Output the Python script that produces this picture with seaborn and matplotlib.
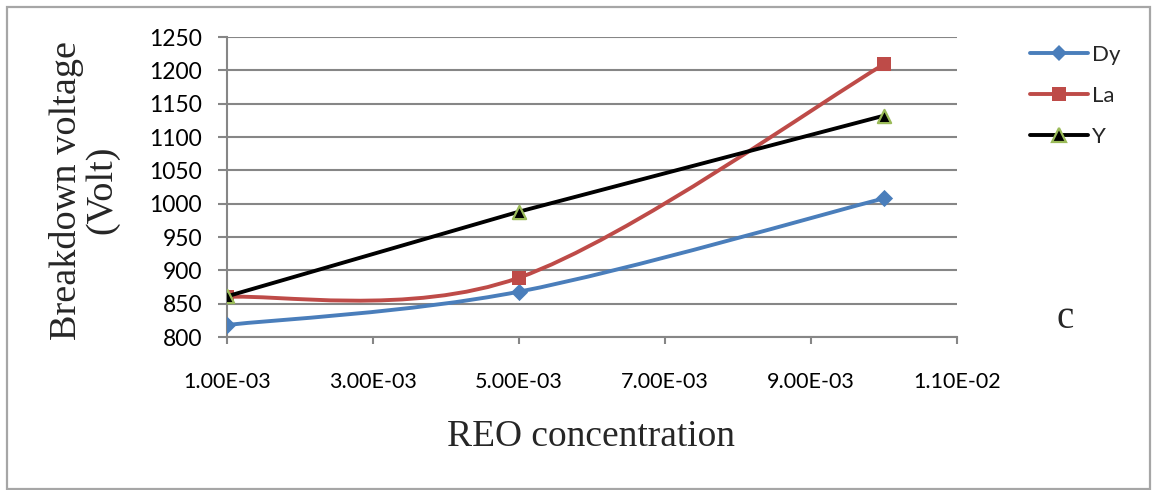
import numpy as np
import pandas as pd
import matplotlib
matplotlib.use("Agg")
import matplotlib.pyplot as plt
from matplotlib.path import Path
from matplotlib.patches import PathPatch, Rectangle
from matplotlib.lines import Line2D
import seaborn as sns

# REO concentration levels and measured breakdown voltages
concentration = [1.0e-3, 5.0e-3, 1.0e-2]
dy_volts = [818, 868, 1008]
la_volts = [860, 889, 1209]
y_volts = [861, 988, 1132]

series_names = ["Dy", "La", "Y"]
x_ticks = [1e-3, 3e-3, 5e-3, 7e-3, 9e-3, 11e-3]
x_tick_labels = ["1.00E-03", "3.00E-03", "5.00E-03", "7.00E-03", "9.00E-03", "1.10E-02"]
y_ticks = list(range(800, 1251, 50))

sns.set_theme(style="white")
plt.rcParams["font.family"] = ["Lato", "DejaVu Sans"]

W, H = 1157, 490
fig = plt.figure(figsize=(W / 100, H / 100), dpi=100)
ax = fig.add_axes([227 / W, 1 - 337 / H, 730 / W, 300 / H])

GRID = "#868686"
BLUE = "#4A7EBB"
RED = "#BE4B48"
GREEN_EDGE = "#9BBB59"


def smooth_path(xs, ys):
    """Cubic Bezier path through the points, Excel-style smoothing."""
    pts = np.column_stack([xs, ys]).astype(float)
    n = len(pts)
    verts = [pts[0]]
    codes = [Path.MOVETO]
    for i in range(n - 1):
        p0 = pts[i - 1] if i > 0 else pts[i]
        p1 = pts[i]
        p2 = pts[i + 1]
        p3 = pts[i + 2] if i + 2 < n else pts[i + 1]
        c1 = p1 + (p2 - p0) / 6.0
        c2 = p2 - (p3 - p1) / 6.0
        verts += [c1, c2, p2]
        codes += [Path.CURVE4] * 3
    return Path(verts, codes)


df = pd.DataFrame({
    "conc": concentration * 3,
    "volt": dy_volts + la_volts + y_volts,
    "series": sum([[s] * len(concentration) for s in series_names], []),
})

lw = 2.8
ms = 9.5

# Dy: smoothed blue curve with diamond markers
ax.add_patch(PathPatch(smooth_path(concentration, dy_volts), fill=False,
                       edgecolor=BLUE, lw=lw, zorder=3, capstyle="round"))
sns.scatterplot(data=df[df.series == "Dy"], x="conc", y="volt", marker="D",
                s=ms ** 2 * 0.85, color=BLUE, edgecolor=BLUE, linewidth=0,
                ax=ax, zorder=4, legend=False)

# La: smoothed red curve with square markers
ax.add_patch(PathPatch(smooth_path(concentration, la_volts), fill=False,
                       edgecolor=RED, lw=lw, zorder=5, capstyle="round"))
sns.scatterplot(data=df[df.series == "La"], x="conc", y="volt", marker="s",
                s=ms ** 2 * 1.0, color=RED, edgecolor=RED, linewidth=0,
                ax=ax, zorder=6, legend=False)

# Y: straight black line with triangle markers
sns.lineplot(data=df[df.series == "Y"], x="conc", y="volt", color="black",
             lw=lw, ax=ax, zorder=7, legend=False)
sns.scatterplot(data=df[df.series == "Y"], x="conc", y="volt", marker="^",
                s=ms ** 2 * 1.0, color="black", edgecolor=GREEN_EDGE,
                linewidth=1.6, ax=ax, zorder=8, legend=False)

ax.set_xlim(1e-3, 11e-3)
ax.set_ylim(800, 1250)
ax.set_xticks(x_ticks)
ax.set_xticklabels(x_tick_labels)
ax.set_yticks(y_ticks)
ax.set_xlabel("")
ax.set_ylabel("")

ax.grid(axis="y", color=GRID, lw=1.5)
ax.grid(axis="x", visible=False)
ax.set_axisbelow(True)
for side in ["top", "right"]:
    ax.spines[side].set_visible(False)
for side in ["left", "bottom"]:
    ax.spines[side].set_color(GRID)
    ax.spines[side].set_linewidth(1.5)

ax.tick_params(axis="y", which="both", left=True, length=6.5, width=1.5,
               color=GRID, pad=11.5, labelsize=16.5, labelcolor="black")
ax.tick_params(axis="x", which="both", bottom=True, length=5, width=1.5,
               color=GRID, pad=20, labelsize=15.5, labelcolor="black")

serif = ["Liberation Serif", "DejaVu Serif"]
fig.text(84 / W, 1 - 190 / H, "Breakdown voltage\n(Volt)", rotation=90,
         ha="center", va="center", multialignment="center",
         fontsize=27.5, family=serif, linespacing=1.05)
fig.text(591 / W, 1 - 437 / H, "REO concentration", ha="center",
         va="center", fontsize=27, family=serif)
fig.text(1065 / W, 1 - 318 / H, "c", ha="center", va="center",
         fontsize=28, family=serif)

handles = [
    Line2D([], [], color=BLUE, lw=lw, marker="D", markersize=ms * 0.9,
           markeredgewidth=0),
    Line2D([], [], color=RED, lw=lw, marker="s", markersize=ms * 1.0,
           markeredgewidth=0),
    Line2D([], [], color="black", lw=lw, marker="^", markersize=ms,
           markerfacecolor="black", markeredgecolor=GREEN_EDGE,
           markeredgewidth=1.6),
]
fig.legend(handles, series_names, loc="upper left",
           bbox_to_anchor=(1030 / W, 1 - 45 / H), frameon=False,
           fontsize=16, handlelength=2.6, handletextpad=0.2,
           labelspacing=0.95, borderpad=0, borderaxespad=0)

# outer chart frame
fig.add_artist(Rectangle((6.5 / W, 1.5 / H), 1143 / W, (489 - 7.5) / H,
                         transform=fig.transFigure, fill=False,
                         edgecolor="#A6A6A6", lw=1.6))

fig.savefig("out.png", dpi=100)
